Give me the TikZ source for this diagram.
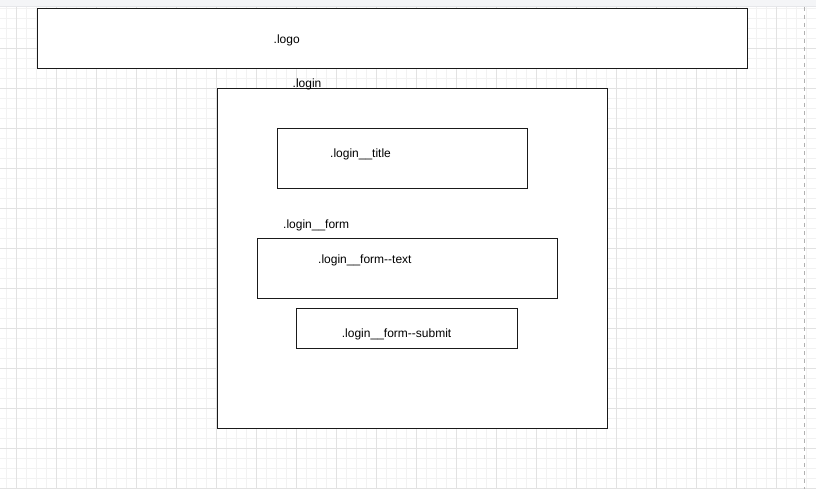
\documentclass[tikz,border=0pt]{standalone}
\usepackage{fontspec}
\setmainfont{Liberation Sans}
\definecolor{topband}{HTML}{F4F5F7}
\definecolor{topline}{HTML}{E6E7EA}
\definecolor{minorgrid}{HTML}{F2F2F2}
\definecolor{majorgrid}{HTML}{E2E2E2}
\definecolor{dashgray}{HTML}{B0B0B0}
\definecolor{boxline}{HTML}{1A1A1A}
\begin{document}
\begin{tikzpicture}[x=1pt,y=-1pt,
  minorline/.style={draw=minorgrid,line width=1pt},
  majorline/.style={draw=majorgrid,line width=1pt},
  box/.style={draw=boxline,fill=white,line width=1pt},
  lbl/.style={anchor=base west,inner sep=0pt,font=\fontsize{12}{14}\selectfont}]
\useasboundingbox (0,0) rectangle (816,489);
\fill[white] (0,0) rectangle (816,489);
% grid
\foreach \x in {6.5,16.5,...,816} \draw[minorline] (\x,7) -- (\x,489);
\foreach \y in {8.3,18.3,...,489} \draw[minorline] (0,\y) -- (816,\y);
\foreach \x in {16.5,56.5,...,816} \draw[majorline] (\x,7) -- (\x,489);
\foreach \y in {48.3,88.3,...,489} \draw[majorline] (0,\y) -- (816,\y);
% top band
\fill[topband] (0,0) rectangle (816,7);
\draw[topline,line width=1pt] (0,7) -- (816,7);
% page break dashed line
\coordinate (dtop) at (804.5,7);
\coordinate (dbot) at (804.5,489);
\draw[dashgray,line width=1pt,dash pattern=on 4pt off 4pt] (dtop) -- (dbot);
% boxes
\draw[box] (37,8.3) rectangle (747,68.3);
\draw[box] (217,88.3) rectangle (607,428.3);
\draw[box] (277,128.3) rectangle (527,188.3);
\draw[box] (257,238.3) rectangle (557,298.3);
\draw[box] (296,308.3) rectangle (517,348.3);
% labels
\node[lbl] (logo) at (273.5,43.5) {.logo};
\node[lbl] (login) at (292.5,88) {.login};
\node[lbl] (title) at (330,157.3) {.login\_\_title};
\node[lbl] (form) at (283,228) {.login\_\_form};
\node[lbl] (formtext) at (318,263.3) {.login\_\_form-{}-text};
\node[lbl] (formsubmit) at (341.7,337.3) {.login\_\_form-{}-submit};
\end{tikzpicture}
\end{document}
